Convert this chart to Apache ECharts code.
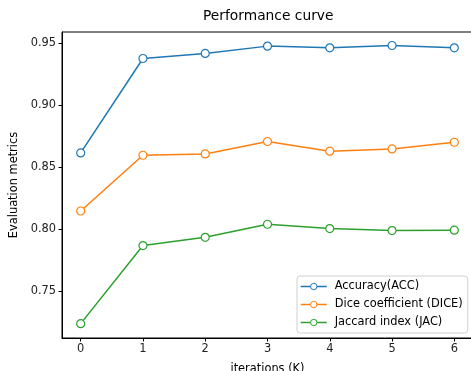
<!DOCTYPE html>
<html>
<head>
<meta charset="UTF-8">
<title>Performance curve</title>
<script src="https://cdn.jsdelivr.net/npm/echarts@6/dist/echarts.min.js"></script>
<style>
  html, body { margin: 0; padding: 0; background: #fff; }
  #main { width: 471px; height: 371px; }
</style>
</head>
<body>
<div id="main"></div>
<script>
// data
var iterations = [0, 1, 2, 3, 4, 5, 6];
var accValues  = [0.8614, 0.9376, 0.9417, 0.9476, 0.9462, 0.9481, 0.9462];
var diceValues = [0.8145, 0.8595, 0.8606, 0.8706, 0.8628, 0.8646, 0.8700];
var jacValues  = [0.7236, 0.7866, 0.7933, 0.8038, 0.8003, 0.7987, 0.7990];
var yTicks = [0.75, 0.80, 0.85, 0.90, 0.95];
var seriesNames = ['Accuracy(ACC)', 'Dice coefficient (DICE)', 'Jaccard index (JAC)'];
var colors = ['#1f77b4', '#ff7f0e', '#2ca02c'];

var font = 'DejaVu Sans';
var fs = 11.4;

function pairs(vals) {
    return iterations.map(function (x, i) { return [x, vals[i]]; });
}

function lineSeries(name, vals, color) {
    return {
        name: name,
        type: 'line',
        data: pairs(vals),
        symbol: 'circle',
        symbolSize: 8,
        lineStyle: { color: color, width: 1.5 },
        itemStyle: { color: '#fff', borderColor: color, borderWidth: 1.2 },
        emphasis: { disabled: true },
        animation: false
    };
}

var myChart = echarts.init(document.getElementById('main'));

var option = {
    animation: false,
    title: {
        text: 'Performance curve',
        left: 203,
        top: 9,
        padding: 0,
        textStyle: { fontFamily: font, fontSize: 13.8, fontWeight: 'normal', color: '#000' }
    },
    legend: {
        orient: 'vertical',
        left: 297,
        top: 276,
        padding: [5, 5, 5, 3],
        itemGap: 7,
        itemWidth: 26,
        itemHeight: 8,
        borderColor: '#d0d0d0',
        borderWidth: 1,
        borderRadius: 3,
        backgroundColor: 'rgba(255,255,255,0.8)',
        itemStyle: { borderWidth: 1 },
        lineStyle: { width: 1.5 },
        textStyle: { fontFamily: font, fontSize: fs, color: '#000', padding: [0, 0, 0, 3] },
        data: seriesNames
    },
    grid: {
        show: true,
        left: 62,
        top: 32,
        width: 411,
        height: 306,
        outerBoundsMode: 'none',
        containLabel: false,
        borderColor: '#000',
        borderWidth: 1,
        backgroundColor: 'transparent'
    },
    xAxis: {
        type: 'value',
        min: -0.3,
        max: 6.3,
        name: 'iterations (K)',
        nameLocation: 'middle',
        nameGap: 26,
        nameTextStyle: { fontFamily: font, fontSize: fs, color: '#000' },
        axisLine: { show: true, onZero: false, lineStyle: { color: '#000', width: 1 } },
        axisTick: { show: true, length: 3.5, customValues: iterations, lineStyle: { color: '#000' } },
        axisLabel: {
            customValues: iterations,
            margin: 6,
            fontFamily: font, fontSize: fs, color: '#222',
            formatter: function (v) { return String(v); }
        },
        splitLine: { show: false }
    },
    yAxis: {
        type: 'value',
        min: 0.712,
        max: 0.959,
        name: 'Evaluation metrics',
        nameLocation: 'middle',
        nameGap: 40,
        nameTextStyle: { fontFamily: font, fontSize: fs, color: '#000' },
        axisLine: { show: true, onZero: false, lineStyle: { color: '#000', width: 1 } },
        axisTick: { show: true, length: 3.5, customValues: yTicks, lineStyle: { color: '#000' } },
        axisLabel: {
            customValues: yTicks,
            margin: 6,
            fontFamily: font, fontSize: fs, color: '#222',
            formatter: function (v) { return v.toFixed(2); }
        },
        splitLine: { show: false }
    },
    series: [
        lineSeries(seriesNames[0], accValues, colors[0]),
        lineSeries(seriesNames[1], diceValues, colors[1]),
        lineSeries(seriesNames[2], jacValues, colors[2])
    ]
};

myChart.setOption(option);
</script>
</body>
</html>
